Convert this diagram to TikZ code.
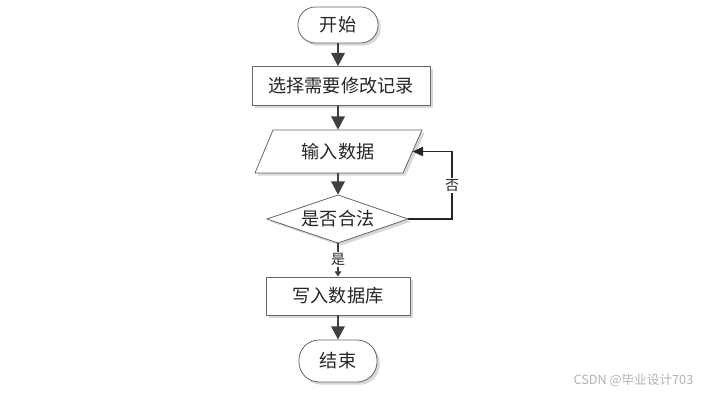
\documentclass[tikz,border=0pt]{standalone}
\usepackage{fontspec}
\newfontfamily\cjk{Noto Sans CJK SC}
\usetikzlibrary{arrows.meta,shadows}
\begin{document}
\begin{tikzpicture}[x=0.75pt,y=-0.75pt,
  font=\cjk\fontsize{13.6}{15}\selectfont, text=black!85,
  shp/.style={draw=black!60, line width=0.6pt, fill=white,
    drop shadow={shadow xshift=2pt,shadow yshift=-2pt,fill=black!30,opacity=0.5}},
  term/.style={shp, rounded corners=13pt, inner sep=0},
  proc/.style={shp, inner sep=0},
  hold/.style={inner sep=0},
  flow/.style={draw=black!75, line width=1.8pt, -{Triangle[length=10pt,width=10pt]}},
  back/.style={draw=black!85, line width=1.1pt, -{Triangle[length=8pt,width=7pt]}},
  yes/.style={draw=black!75, line width=1.5pt, -{Triangle[length=4pt,width=5pt]}},
  lbl/.style={font=\cjk\fontsize{10.5}{12}\selectfont, fill=white, inner sep=1pt}
]
\useasboundingbox (0,0) rectangle (711,393);
% shapes
\node[term, minimum width=60pt, minimum height=27pt] (start) at (338,25) {开始};
\node[proc, minimum width=133.5pt, minimum height=29pt] (choose) at (341,86) {选择需要修改记录};
\path[shp] (273,130) -- (422,130) -- (403,173) -- (255,173) -- cycle;
\node[hold, minimum width=100pt, minimum height=32.25pt] (input) at (338,151.5) {输入数据};
\coordinate (inR) at (412.5,151.5);
\path[shp] (338,195) -- (408,219) -- (338,243) -- (267,219) -- cycle;
\node[hold, minimum width=105pt, minimum height=36pt] (check) at (338,219) {是否合法};
\node[proc, minimum width=108pt, minimum height=28.5pt] (save) at (338,296) {写入数据库};
\node[term, minimum width=58.5pt, minimum height=31.5pt, rounded corners=15pt] (stop) at (338,361) {结束};
% connectors
\draw[flow] (start.south) -- (start.south |- choose.north);
\draw[flow] (choose.south -| input.north) -- (input.north);
\draw[flow] (input.south) -- (check.north);
\draw[yes] (check.south) -- (save.north) node[lbl, pos=0.5] {是};
\coordinate (fb) at (452,219);
\draw[back] (check.east) -- (fb) |- (inR) node[lbl, pos=0.25] {否};
\draw[flow] (save.south) -- (stop.north);
% watermark
\node[text=black!30, font=\cjk\fontsize{9.5}{11}\selectfont, anchor=east] (wm) at (698,380) {CSDN @毕业设计703};
\end{tikzpicture}
\end{document}
